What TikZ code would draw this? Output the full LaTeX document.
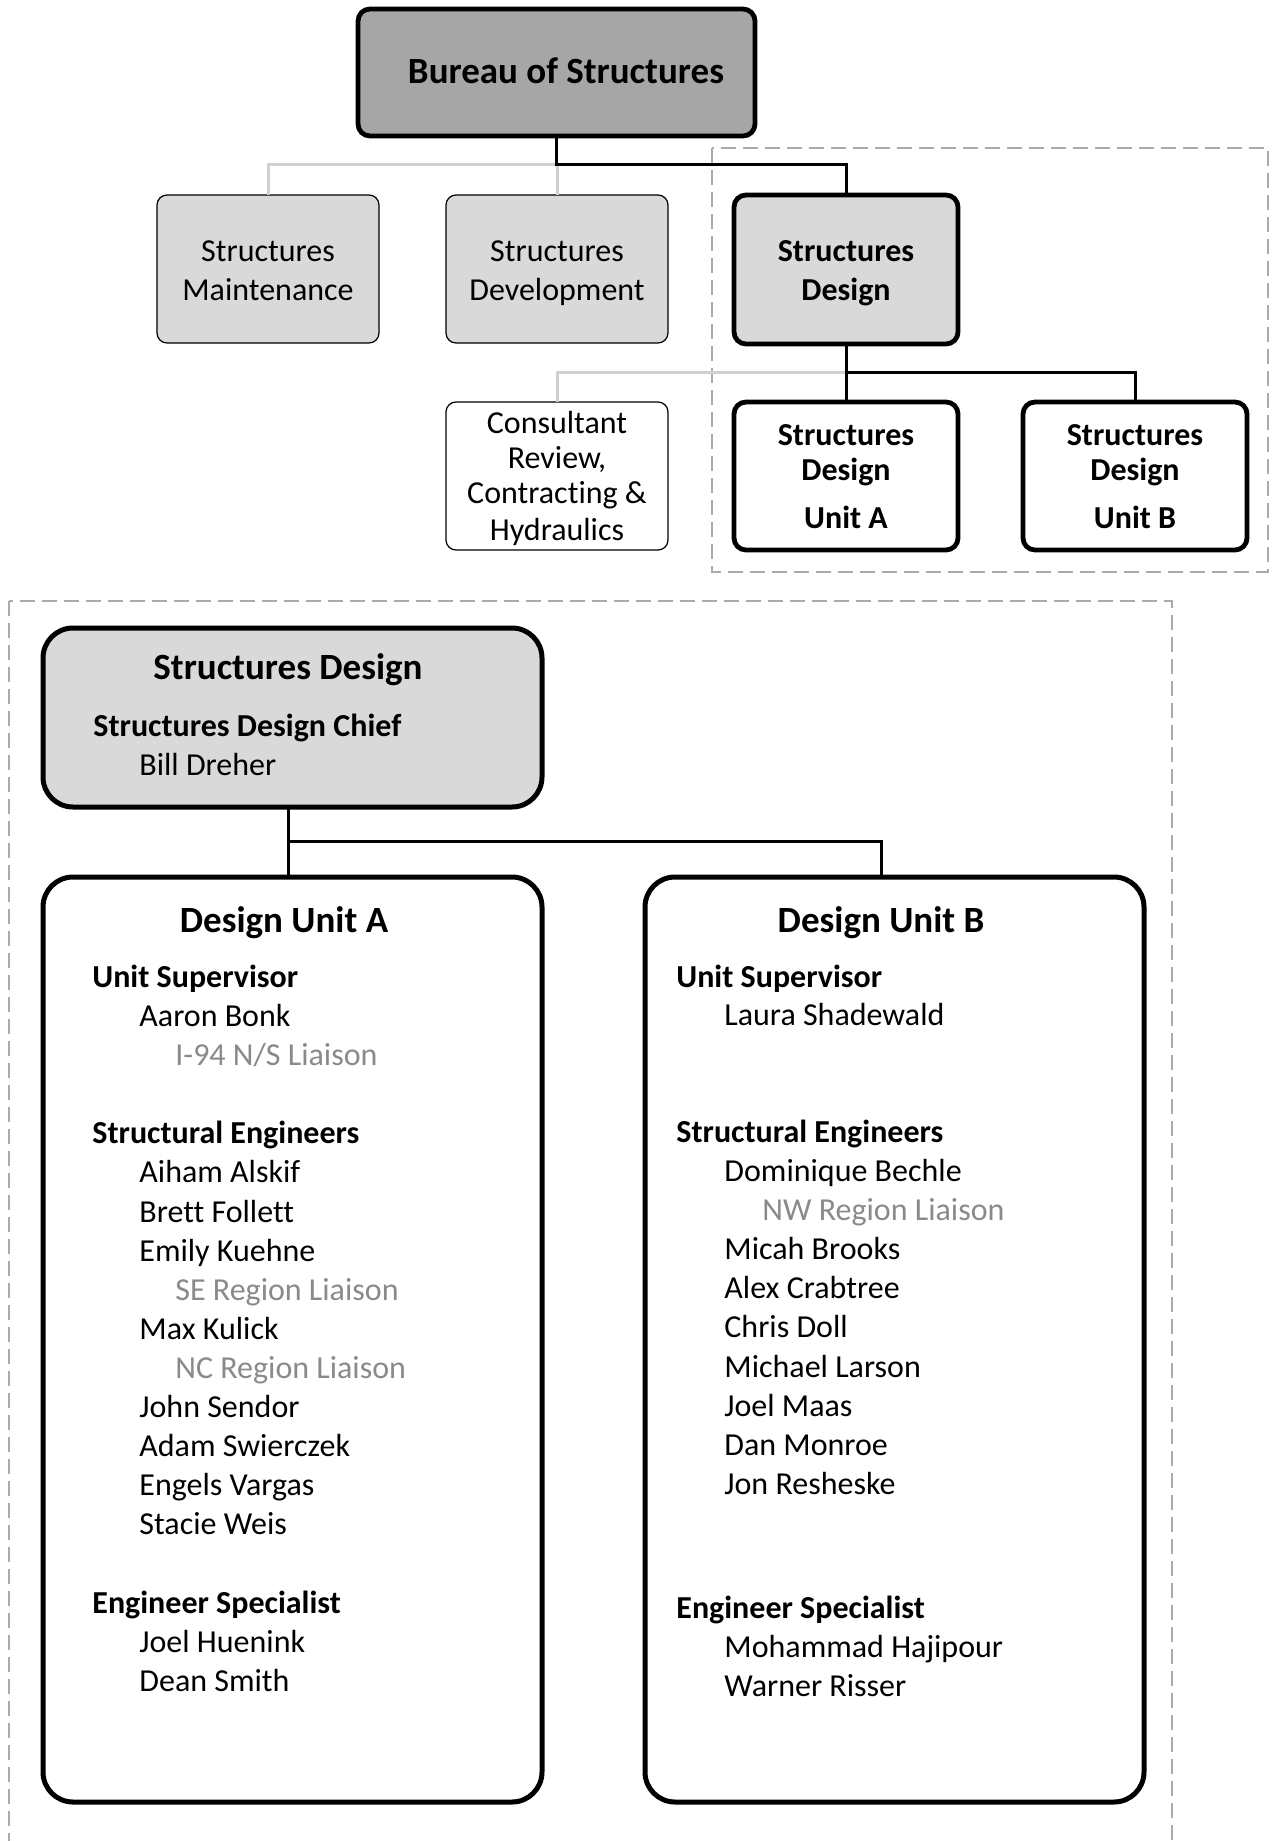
\documentclass[tikz,border=0pt]{standalone}
\usepackage{fontspec}
\setmainfont{Carlito}[Ligatures={NoCommon}]
\usetikzlibrary{calc}
\definecolor{darkfill}{HTML}{A6A6A6}
\definecolor{lightfill}{HTML}{D9D9D9}
\definecolor{gline}{HTML}{D0D0D0}
\definecolor{gtext}{HTML}{8A8A8A}
\definecolor{frameclr}{HTML}{AAAAAA}
\begin{document}
\begin{tikzpicture}[x=0.5pt,y=-0.5pt,
  box/.style={draw, rectangle, inner sep=0pt, outer sep=0pt},
  thickbox/.style={box, line width=2.4pt, rounded corners=6pt},
  thinbox/.style={box, line width=0.6pt, rounded corners=5pt},
  bigbox/.style={box, line width=2.5pt, rounded corners=15pt},
  conn/.style={line width=1.5pt},
  gconn/.style={line width=1.5pt, draw=gline},
  frame/.style={draw=frameclr, line width=1pt, dash pattern=on 7.5pt off 3.5pt},
  t/.style={font=\fontsize{16}{19.5}\selectfont, inner sep=0pt, anchor=base},
  tb/.style={t, font=\fontsize{16}{19.5}\selectfont\bfseries},
  th/.style={t, font=\fontsize{18.5}{22}\selectfont\bfseries},
  tl/.style={t, anchor=base west},
  tlb/.style={tb, anchor=base west},
  tg/.style={tl, text=gtext},
]
\useasboundingbox (0,0) rectangle (1272,1841);
\fill[white] (0,0) rectangle (1272,1841);

% frames
\draw[frame] (712,148) rectangle (1268,572);
\draw[frame] (9,601) rectangle (1172,1860);

% top boxes
\node[thickbox, fill=darkfill, minimum width=198.5pt, minimum height=63.5pt] (bur) at (556.5,72.5) {};
\node[thinbox, fill=lightfill, minimum width=111pt, minimum height=74pt] (maint) at (268,269) {};
\node[thinbox, fill=lightfill, minimum width=111pt, minimum height=74pt] (dev) at (557,269) {};
\node[thickbox, fill=lightfill, minimum width=112pt, minimum height=74.5pt] (sdt) at (846,269.5) {};
\node[thinbox, fill=white, minimum width=111pt, minimum height=74pt] (cons) at (557,476) {};
\node[thickbox, fill=white, minimum width=112pt, minimum height=74pt] (ua) at (846,476) {};
\node[thickbox, fill=white, minimum width=112pt, minimum height=74pt] (ub) at (1135,476) {};

% top connectors
\coordinate (j1) at (557,164);
\coordinate (j2) at (846,372);
\draw[gconn] (maint.north) |- (j1) -- (dev.north);
\draw[conn] (bur.south) -- (bur.south |- j1) -| (sdt.north);
\draw[gconn] (j2) -| (cons.north);
\draw[conn] (sdt.south) -- (ua.north);
\draw[conn] (j2) -| (ub.north);

% top texts
\node[th] (tbur) at (566,84) {Bureau of Structures};
\node[t] (tm1) at (268,261) {Structures};
\node[t] (tm2) at (268,300) {Maintenance};
\node[t] (td1) at (557,261) {Structures};
\node[t] (td2) at (557,300) {Development};
\node[tb] (ts1) at (846,261) {Structures};
\node[tb] (ts2) at (846,300) {Design};
\node[t] (tc1) at (557,433) {Consultant};
\node[t] (tc2) at (557,468) {Review,};
\node[t] (tc3) at (557,503) {Contracting \&};
\node[t] (tc4) at (557,540) {Hydraulics};
\node[tb] (tua1) at (846,445) {Structures};
\node[tb] (tua2) at (846,480) {Design};
\node[tb] (tua3) at (846,528) {Unit A};
\node[tb] (tub1) at (1135,445) {Structures};
\node[tb] (tub2) at (1135,480) {Design};
\node[tb] (tub3) at (1135,528) {Unit B};

% bottom boxes
\node[bigbox, fill=lightfill, minimum width=249.5pt, minimum height=89.5pt] (sd) at (292.5,717.5) {};
\node[bigbox, fill=white, minimum width=249.5pt, minimum height=462.5pt] (dua) at (292.5,1339.5) {};
\node[bigbox, fill=white, minimum width=249.5pt, minimum height=462.5pt] (dub) at (894.5,1339.5) {};

% bottom connectors
\coordinate (j3) at (288,841);
\draw[conn] (sd.south -| j3) -- (dua.north -| j3);
\draw[conn] (j3) -| ([xshift=-6.75pt]dub.north);

% bottom texts: chief
\node[th] (tsd) at (288,679) {Structures Design};
\node[tlb] (tsdc) at (93,736) {Structures Design Chief};
\node[tl] (tbd) at (139,775) {Bill Dreher};

% Unit A
\node[th] (hA) at (284,932) {Design Unit A};
\node[tlb] (a1) at (92,987) {Unit Supervisor};
\node[tl] (a2) at (139,1026) {Aaron Bonk};
\node[tg] (a3) at (175,1065) {I-94 N/S Liaison};
\node[tlb] (a4) at (92,1143) {Structural Engineers};
\node[tl] (a5) at (139,1182) {Aiham Alskif};
\node[tl] (a6) at (139,1222) {Brett Follett};
\node[tl] (a7) at (139,1261) {Emily Kuehne};
\node[tg] (a8) at (175,1300) {SE Region Liaison};
\node[tl] (a9) at (139,1339) {Max Kulick};
\node[tg] (a10) at (175,1378) {NC Region Liaison};
\node[tl] (a11) at (139,1417) {John Sendor};
\node[tl] (a12) at (139,1456) {Adam Swierczek};
\node[tl] (a13) at (139,1495) {Engels Vargas};
\node[tl] (a14) at (139,1534) {Stacie Weis};
\node[tlb] (a15) at (92,1613) {Engineer Specialist};
\node[tl] (a16) at (139,1652) {Joel Huenink};
\node[tl] (a17) at (139,1691) {Dean Smith};

% Unit B
\node[th] (hB) at (881,932) {Design Unit B};
\node[tlb] (b1) at (676,987) {Unit Supervisor};
\node[tl] (b2) at (724,1025) {Laura Shadewald};
\node[tlb] (b3) at (676,1142) {Structural Engineers};
\node[tl] (b4) at (724,1181) {Dominique Bechle};
\node[tg] (b5) at (762,1220) {NW Region Liaison};
\node[tl] (b6) at (724,1259) {Micah Brooks};
\node[tl] (b7) at (724,1298) {Alex Crabtree};
\node[tl] (b8) at (724,1337) {Chris Doll};
\node[tl] (b9) at (724,1377) {Michael Larson};
\node[tl] (b10) at (724,1416) {Joel Maas};
\node[tl] (b11) at (724,1455) {Dan Monroe};
\node[tl] (b12) at (724,1494) {Jon Resheske};
\node[tlb] (b13) at (676,1618) {Engineer Specialist};
\node[tl] (b14) at (724,1657) {Mohammad Hajipour};
\node[tl] (b15) at (724,1696) {Warner Risser};
\end{tikzpicture}
\end{document}
